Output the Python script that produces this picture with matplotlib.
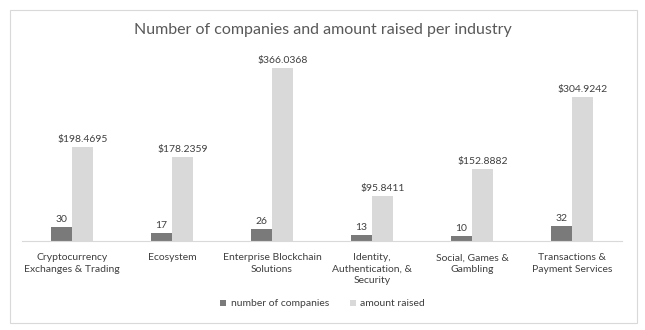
import matplotlib
matplotlib.use("Agg")
import matplotlib.pyplot as plt
import numpy as np
from matplotlib.patches import Rectangle

categories = ["Cryptocurrency\nExchanges & Trading", "Ecosystem", "Enterprise Blockchain\nSolutions",
              "Identity,\nAuthentication, &\nSecurity", "Social, Games &\nGambling", "Transactions &\nPayment Services"]
companies = [30, 17, 26, 13, 10, 32]
raised = [198.4695, 178.2359, 366.0368, 95.8411, 152.8882, 304.9242]
raised_labels = ["$198.4695", "$178.2359", "$366.0368", "$95.8411", "$152.8882", "$304.9242"]

plt.rcParams['font.family'] = ['Lato', 'DejaVu Sans']
dark = '#7a7a7a'
light = '#d9d9d9'
txt = '#404040'

fig = plt.figure(figsize=(6.45, 3.30), dpi=100)
fig.patches.append(Rectangle((10/645, 7/330), 627/645, 313/330, transform=fig.transFigure,
                             fill=False, edgecolor='#d9d9d9', linewidth=0.8))
ax = fig.add_axes([22/645, 89/330, 600/645, 182/330])
x = np.arange(len(categories))
w = 0.21
b1 = ax.bar(x - w/2, companies, w, color=dark, label='number of companies')
b2 = ax.bar(x + w/2, raised, w, color=light, label='amount raised')
for xi, v in zip(x, companies):
    ax.text(xi - w/2, v + 6, str(v), ha='center', va='bottom', fontsize=7.5, color=txt)
for xi, v, l in zip(x, raised, raised_labels):
    ax.text(xi + w/2, v + 6, l, ha='center', va='bottom', fontsize=7.5, color=txt)
ax.set_xlim(-0.5, len(categories) - 0.5)
ax.set_ylim(0, 385)
ax.set_yticks([])
ax.set_xticks(x)
ax.set_xticklabels(categories, fontsize=7.5, color=txt, linespacing=1.35)
ax.tick_params(axis='x', length=0, pad=9)
for s in ['top', 'right', 'left']:
    ax.spines[s].set_visible(False)
ax.spines['bottom'].set_color('#d9d9d9')
fig.text(0.5, 1 - 30/330, "Number of companies and amount raised per industry", ha='center', va='center',
         fontsize=11.5, color='#595959')
fig.legend(handles=[b1, b2], loc='center', bbox_to_anchor=(0.5, 1 - 304/330), ncol=2, frameon=False,
           fontsize=7.5, labelcolor=txt, handlelength=0.6, handleheight=0.6, handletextpad=0.4, columnspacing=2.0)
fig.savefig('out.png', dpi=100)
